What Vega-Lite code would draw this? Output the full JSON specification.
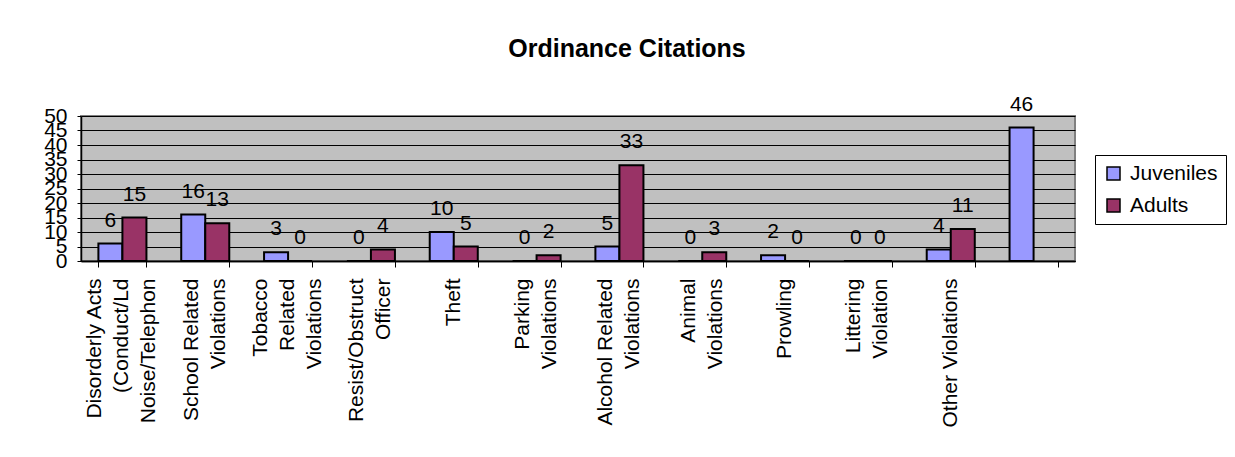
{
  "$schema": "https://vega.github.io/schema/vega-lite/v6.json",
  "width": 994,
  "height": 145,
  "autosize": {"type": "none"},
  "padding": {"left": 81, "top": 116, "right": 160, "bottom": 196},
  "background": "white",
  "title": {"text": "Ordinance Citations", "font": "Liberation Sans", "fontSize": 25, "fontWeight": "bold", "color": "black", "anchor": "middle", "dx": 49, "offset": 12, "baseline": "alphabetic", "frame": "group"},
  "config": {
    "view": {"fill": "#C0C0C0", "stroke": "#808080", "strokeWidth": 2}
  },
  "data": {"values": [
    {"category": "Disorderly Acts|(Conduct/Ld|Noise/Telephon", "series": "Juveniles", "value": 6},
    {"category": "Disorderly Acts|(Conduct/Ld|Noise/Telephon", "series": "Adults", "value": 15},
    {"category": "School Related|Violations", "series": "Juveniles", "value": 16},
    {"category": "School Related|Violations", "series": "Adults", "value": 13},
    {"category": "Tobacco|Related|Violations", "series": "Juveniles", "value": 3},
    {"category": "Tobacco|Related|Violations", "series": "Adults", "value": 0},
    {"category": "Resist/Obstruct|Officer", "series": "Juveniles", "value": 0},
    {"category": "Resist/Obstruct|Officer", "series": "Adults", "value": 4},
    {"category": "Theft", "series": "Juveniles", "value": 10},
    {"category": "Theft", "series": "Adults", "value": 5},
    {"category": "Parking|Violations", "series": "Juveniles", "value": 0},
    {"category": "Parking|Violations", "series": "Adults", "value": 2},
    {"category": "Alcohol Related|Violations", "series": "Juveniles", "value": 5},
    {"category": "Alcohol Related|Violations", "series": "Adults", "value": 33},
    {"category": "Animal|Violations", "series": "Juveniles", "value": 0},
    {"category": "Animal|Violations", "series": "Adults", "value": 3},
    {"category": "Prowling", "series": "Juveniles", "value": 2},
    {"category": "Prowling", "series": "Adults", "value": 0},
    {"category": "Littering|Violation", "series": "Juveniles", "value": 0},
    {"category": "Littering|Violation", "series": "Adults", "value": 0},
    {"category": "Other Violations", "series": "Juveniles", "value": 4},
    {"category": "Other Violations", "series": "Adults", "value": 11},
    {"category": " ", "series": "Juveniles", "value": 46},
    {"category": " ", "series": "Adults", "value": null}
  ]},
  "encoding": {
    "xOffset": {"field": "series", "type": "nominal", "sort": ["Juveniles", "Adults"], "scale": {"domain": ["Juveniles", "Adults"], "paddingInner": 0, "paddingOuter": 0}},
    "y": {
      "field": "value", "type": "quantitative",
      "scale": {"domain": [0, 50], "nice": false},
      "axis": {
        "title": null, "values": [0, 5, 10, 15, 20, 25, 30, 35, 40, 45, 50],
        "labelFont": "Liberation Sans", "labelFontSize": 21, "labelColor": "black",
        "labelOverlap": false, "labelPadding": 10, "tickSize": 4, "tickColor": "black",
        "domainColor": "black", "domainWidth": 1.5,
        "grid": true, "gridColor": "black", "gridWidth": 1
      }
    }
  },
  "layer": [
    {
      "mark": {"type": "bar", "stroke": "black", "strokeWidth": 2},
      "encoding": {
        "x": {
          "field": "category", "type": "nominal", "sort": null,
          "scale": {"paddingInner": 0.42, "paddingOuter": 0.21},
          "axis": {
            "orient": "bottom", "title": null, "labelAngle": -90, "labelExpr": "split(datum.value, '|')",
            "labelFont": "Liberation Sans", "labelFontSize": 21, "labelColor": "black",
            "labelLineHeight": 27, "labelPadding": 17, "labelLimit": 400,
            "labelOffset": {
              "condition": [
                {"test": "length(split(datum.value, '|')) == 3", "value": -27},
                {"test": "length(split(datum.value, '|')) == 2", "value": -13.5}
              ],
              "value": 0
            },
            "ticks": false, "domainColor": "black", "domainWidth": 1.5
          }
        },
        "color": {
          "field": "series", "type": "nominal",
          "scale": {"domain": ["Juveniles", "Adults"], "range": ["#9999FF", "#993366"]},
          "legend": {
            "title": null, "orient": "none", "legendX": 1014, "legendY": 39,
            "strokeColor": "black", "fillColor": "white", "padding": 8,
            "symbolType": "square", "symbolSize": 169, "symbolStrokeColor": "black", "symbolStrokeWidth": 1.5,
            "labelFont": "Liberation Sans", "labelFontSize": 21, "labelColor": "black",
            "labelOffset": 6, "rowPadding": 10
          }
        }
      }
    },
    {
      "mark": {"type": "text", "dy": -17, "baseline": "alphabetic", "font": "Liberation Sans", "fontSize": 21, "color": "black"},
      "encoding": {
        "x": {
          "field": "category", "type": "nominal", "sort": null,
          "axis": {
            "orient": "bottom", "title": null, "labels": false,
            "tickSize": 6, "tickColor": "black", "tickBand": "extent",
            "domainColor": "black", "domainWidth": 1.5
          }
        },
        "text": {"field": "value", "type": "quantitative"}
      }
    }
  ],
  "resolve": {"axis": {"x": "independent"}}
}
